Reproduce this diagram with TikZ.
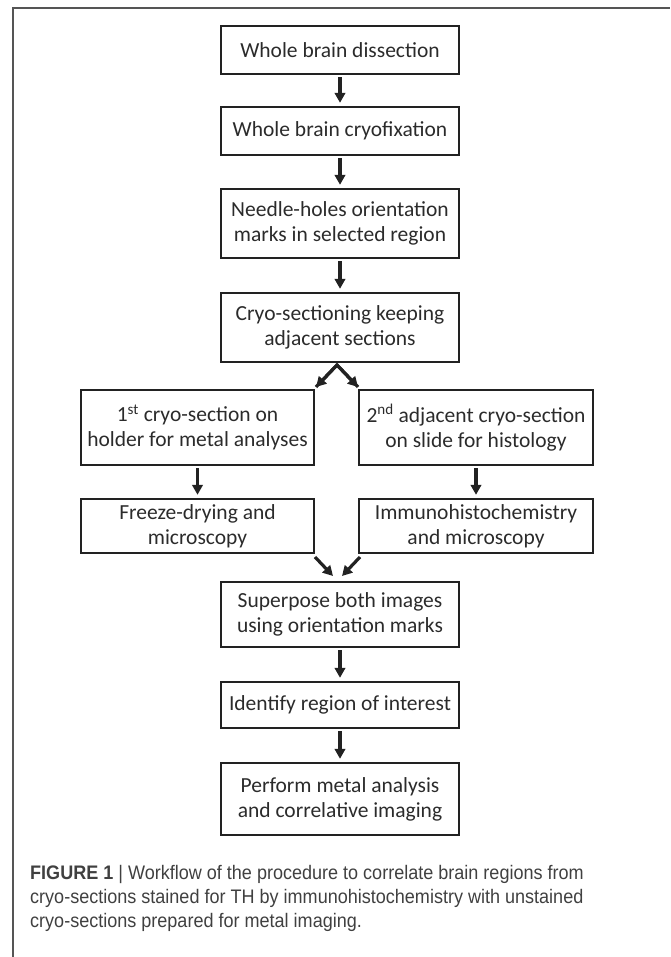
\documentclass[tikz,border=0pt]{standalone}
\usepackage{fontspec}
\setmainfont{Carlito}
\newfontfamily\capfont[FakeStretch=0.92]{Liberation Sans}
\usetikzlibrary{arrows.meta}
\definecolor{boxline}{HTML}{222222}
\definecolor{txt}{HTML}{2B2B2B}
\definecolor{captxt}{HTML}{404040}
\definecolor{frame}{HTML}{555555}
\tikzset{
  box/.style={draw=boxline, line width=2.4pt, rectangle, inner sep=0pt, align=center,
    text=txt, font=\fontsize{21.5}{25}\selectfont},
  flow/.style={draw=boxline, line width=3.2pt, -{Triangle[length=10pt,width=10.5pt]}},
}
\begin{document}
\begin{tikzpicture}[x=1pt,y=-1pt]
\useasboundingbox (0,0) rectangle (670,957);
\draw[frame, line width=1.5pt] (13,957) -- (13,8) -- (670,8);

\node[box, minimum width=238, minimum height=48] (b1) at (340,50) {Whole brain dissection};
\node[box, minimum width=238, minimum height=48] (b2) at (340,131) {Whole brain cryofixation};
\node[box, minimum width=238, minimum height=69] (b3) at (340,223.5) {Needle-holes orientation\\marks in selected region};
\node[box, minimum width=238, minimum height=69] (b4) at (340,327.5) {Cryo-sectioning keeping\\adjacent sections};
\node[box, minimum width=233, minimum height=75] (b5) at (197.5,427.5) {1\textsuperscript{st} cryo-section on\\holder for metal analyses};
\node[box, minimum width=234, minimum height=75] (b6) at (476,427.5) {2\textsuperscript{nd} adjacent cryo-section\\on slide for histology};
\node[box, minimum width=233, minimum height=54] (b7) at (197.5,526) {Freeze-drying and\\microscopy};
\node[box, minimum width=234, minimum height=54] (b8) at (476,526) {Immunohistochemistry\\and microscopy};
\node[box, minimum width=238, minimum height=65] (b9) at (340,614.5) {Superpose both images\\using orientation marks};
\node[box, minimum width=238, minimum height=46] (b10) at (340,705) {Identify region of interest};
\node[box, minimum width=238, minimum height=72] (b11) at (340,799) {Perform metal analysis\\and correlative imaging};

\draw[flow, shorten <=2pt, shorten >=3pt] (b1) -- (b2);
\draw[flow, shorten <=2pt, shorten >=3pt] (b2) -- (b3);
\draw[flow, shorten <=2pt, shorten >=3pt] (b3) -- (b4);
\draw[flow, shorten <=2pt, shorten >=3pt] (b5) -- (b7);
\draw[flow, shorten <=2pt, shorten >=3pt] (b6) -- (b8);
\draw[flow, shorten <=2pt, shorten >=3pt] (b9) -- (b10);
\draw[flow, shorten <=2pt, shorten >=3pt] (b10) -- (b11);

\coordinate (split) at (337,365);
\coordinate (sl) at (316,387);
\coordinate (sr) at (358,387);
\draw[draw=boxline, line width=3.2pt, line join=miter] (sl) -- (split) -- (sr);
\draw[flow] (split) -- (sl);
\draw[flow] (split) -- (sr);

\coordinate (ml) at (315,557);
\coordinate (mlt) at (333,576);
\coordinate (mr) at (360,557);
\coordinate (mrt) at (342,576);
\draw[flow] (ml) -- (mlt);
\draw[flow] (mr) -- (mrt);

\node[anchor=north west, inner sep=0pt, align=left, text=captxt,
  font=\capfont\fontsize{19.6}{24}\selectfont] (cap) at (30,865)
  {\textbf{FIGURE 1} {\textbar} Workflow of the procedure to correlate brain regions from\\
   cryo-sections stained for TH by immunohistochemistry with unstained\\
   cryo-sections prepared for metal imaging.};
\end{tikzpicture}
\end{document}
